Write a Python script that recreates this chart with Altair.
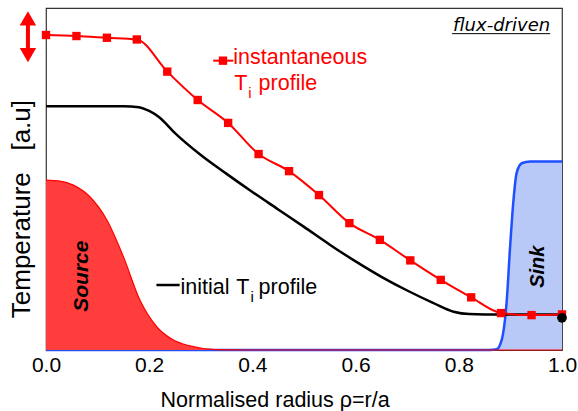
import altair as alt
import pandas as pd

FONT = "Liberation Sans"

# ---------------- data ----------------
inst_x = [0.0, 0.059, 0.118, 0.176, 0.235, 0.294, 0.353, 0.412, 0.471,
          0.529, 0.588, 0.647, 0.706, 0.765, 0.824, 0.882, 0.941, 1.0]
inst_t = [0.921, 0.918, 0.913, 0.908, 0.814, 0.731, 0.664, 0.573, 0.523,
          0.453, 0.371, 0.322, 0.262, 0.205, 0.154, 0.108, 0.102, 0.104]

init_x = [0.0, 0.150, 0.180, 0.200, 0.220, 0.250, 0.300, 0.350, 0.400,
          0.450, 0.500, 0.550, 0.600, 0.650, 0.700, 0.750, 0.790, 0.820,
          0.850, 1.0]
init_t = [0.713, 0.713, 0.710, 0.699, 0.680, 0.634, 0.570, 0.515, 0.462,
          0.411, 0.360, 0.308, 0.259, 0.214, 0.174, 0.138, 0.112, 0.105,
          0.104, 0.104]

src_x = [0.0, 0.027, 0.053, 0.085, 0.118, 0.150, 0.182, 0.2145, 0.247,
         0.279, 0.328, 0.395, 1.0]
src_v = [0.497, 0.494, 0.482, 0.448, 0.380, 0.273, 0.146, 0.068, 0.029,
         0.012, 0.001, 0.0, 0.0]

sink_x = [0.0, 0.860, 0.873, 0.883, 0.893, 0.899, 0.906, 0.912, 0.922,
          0.938, 1.0]
sink_v = [0.0, 0.0, 0.002, 0.029, 0.146, 0.292, 0.439, 0.517, 0.546,
          0.551, 0.551]

tick_values = [0.0, 0.2, 0.4, 0.6, 0.8, 1.0]

x_title = "Normalised radius \u03c1=r/a"
y_title = "Temperature\u00a0\u00a0\u00a0[a.u]"

# ---------------- scales / axis ----------------
xs = alt.Scale(domain=[0, 1], nice=False, zero=False)
ys = alt.Scale(domain=[0, 1], nice=False, zero=False)

x_axis = alt.Axis(values=tick_values, format=".1f", labelFont=FONT,
                  labelFontSize=21, labelColor="black", ticks=False,
                  domain=False, grid=False, labelPadding=4,
                  labelFlush=False, title=None)


def X(field="x"):
    return alt.X(f"{field}:Q", scale=xs, axis=x_axis, title=None)


def Y(field="y"):
    return alt.Y(f"{field}:Q", scale=ys, axis=None, title=None)


src_df = pd.DataFrame({"x": src_x, "y": src_v})
sink_df = pd.DataFrame({"x": sink_x, "y": sink_v})
init_df = pd.DataFrame({"x": init_x, "y": init_t})
inst_df = pd.DataFrame({"x": inst_x, "y": inst_t})

sink_area = alt.Chart(sink_df).mark_area(
    color="#b8c9f7", interpolate="monotone"
).encode(x=X(), y=Y())
sink_line = alt.Chart(sink_df).mark_line(
    color="#1f4fff", strokeWidth=2.5, interpolate="monotone"
).encode(x=X(), y=Y())

source_area = alt.Chart(src_df).mark_area(
    color="#ff3d3d", interpolate="monotone"
).encode(x=X(), y=Y())
source_line = alt.Chart(src_df).mark_line(
    color="#ff0000", strokeWidth=1.2, interpolate="monotone"
).encode(x=X(), y=Y())

init_line = alt.Chart(init_df).mark_line(
    color="black", strokeWidth=2.5, interpolate="monotone"
).encode(x=X(), y=Y())

inst_line = alt.Chart(inst_df).mark_line(
    color="#ff0000", strokeWidth=2, interpolate="monotone"
).encode(x=X(), y=Y())
inst_pts = alt.Chart(inst_df).mark_square(
    color="#ff0000", size=70, opacity=1
).encode(x=X(), y=Y())

dot = alt.Chart(pd.DataFrame({"x": [1.0], "y": [0.094]})).mark_circle(
    color="black", size=95, opacity=1
).encode(x=X(), y=Y())

# legend-like annotations
inst_sym_line = alt.Chart(pd.DataFrame({"x": [0.324], "x2": [0.363], "y": [0.846]})).mark_rule(
    color="#ff0000", strokeWidth=2
).encode(x=X(), x2="x2:Q", y=Y())
inst_sym_pt = alt.Chart(pd.DataFrame({"x": [0.343], "y": [0.846]})).mark_square(
    color="#ff0000", size=70, opacity=1
).encode(x=X(), y=Y())

init_sym_line = alt.Chart(pd.DataFrame({"x": [0.214], "x2": [0.259], "y": [0.190]})).mark_rule(
    color="black", strokeWidth=2.5
).encode(x=X(), x2="x2:Q", y=Y())


def txt(df, **kw):
    base = dict(font=FONT, align="left", baseline="alphabetic")
    base.update(kw)
    return alt.Chart(df).mark_text(**base).encode(x=X(), y=Y(), text="t:N")


red_texts = txt(pd.DataFrame({
    "x": [0.363, 0.3647, 0.412],
    "y": [0.835, 0.760, 0.760],
    "t": ["instantaneous", "T", "profile"],
}), fontSize=21.5, color="#ff0000")
red_sub = txt(pd.DataFrame({"x": [0.392], "y": [0.737], "t": ["i"]}),
              fontSize=15, color="#ff0000")

black_texts = txt(pd.DataFrame({
    "x": [0.2607, 0.3688, 0.412],
    "y": [0.1637, 0.1637, 0.1637],
    "t": ["initial", "T", "profile"],
}), fontSize=21.5, color="black")
black_sub = txt(pd.DataFrame({"x": [0.3963], "y": [0.140], "t": ["i"]}),
                fontSize=15, color="black")

source_txt = txt(pd.DataFrame({"x": [0.069], "y": [0.216], "t": ["Source"]}),
                 fontSize=21, fontWeight="bold", fontStyle="italic",
                 angle=270, align="center", baseline="middle", color="black")
sink_txt = txt(pd.DataFrame({"x": [0.953], "y": [0.2435], "t": ["Sink"]}),
               fontSize=20, fontWeight="bold", fontStyle="italic",
               angle=270, align="center", baseline="middle", color="black")

flux_txt = txt(pd.DataFrame({"x": [0.977], "y": [0.934], "t": ["flux-driven"]}),
               font="DejaVu Sans", fontSize=18, fontStyle="italic",
               align="right", color="black")
flux_ul = alt.Chart(pd.DataFrame({"x": [0.787], "x2": [0.977], "y": [0.925]})).mark_rule(
    color="black", strokeWidth=1
).encode(x=X(), x2="x2:Q", y=Y())

xtitle = txt(pd.DataFrame({"x": [0.444], "y": [-0.168], "t": [x_title]}),
             fontSize=21.5, align="center", color="black")
ytitle = txt(pd.DataFrame({"x": [-0.047], "y": [0.412], "t": [y_title]}),
             fontSize=26, angle=270, align="center", baseline="middle",
             color="black")

# red double-headed arrow left of the frame
arrow_shaft = alt.Chart(pd.DataFrame({"x": [-0.035], "y": [0.955], "y2": [0.875]})).mark_rule(
    color="#ff0000", strokeWidth=4
).encode(x=X(), y=Y(), y2="y2:Q")
arrow_up = alt.Chart(pd.DataFrame({"x": [-0.035], "y": [0.970]})).mark_point(
    shape="triangle-up", filled=True, color="#ff0000", size=270, opacity=1
).encode(x=X(), y=Y())
arrow_down = alt.Chart(pd.DataFrame({"x": [-0.035], "y": [0.862]})).mark_point(
    shape="triangle-down", filled=True, color="#ff0000", size=270, opacity=1
).encode(x=X(), y=Y())

chart = alt.layer(
    sink_area, sink_line, source_area, source_line,
    init_line, inst_line, inst_pts, dot,
    inst_sym_line, inst_sym_pt, init_sym_line,
    red_texts, red_sub, black_texts, black_sub,
    source_txt, sink_txt, flux_txt, flux_ul,
    xtitle, ytitle, arrow_shaft, arrow_up, arrow_down,
).properties(
    width=516, height=342,
    autosize=alt.AutoSizeParams(type="none"),
    padding={"left": 46, "top": 8, "right": 16, "bottom": 61},
    background="white",
).configure_view(
    stroke="#333333", strokeWidth=1.2
)

chart.save("out.html", embed_options={"renderer": "svg", "actions": False})
